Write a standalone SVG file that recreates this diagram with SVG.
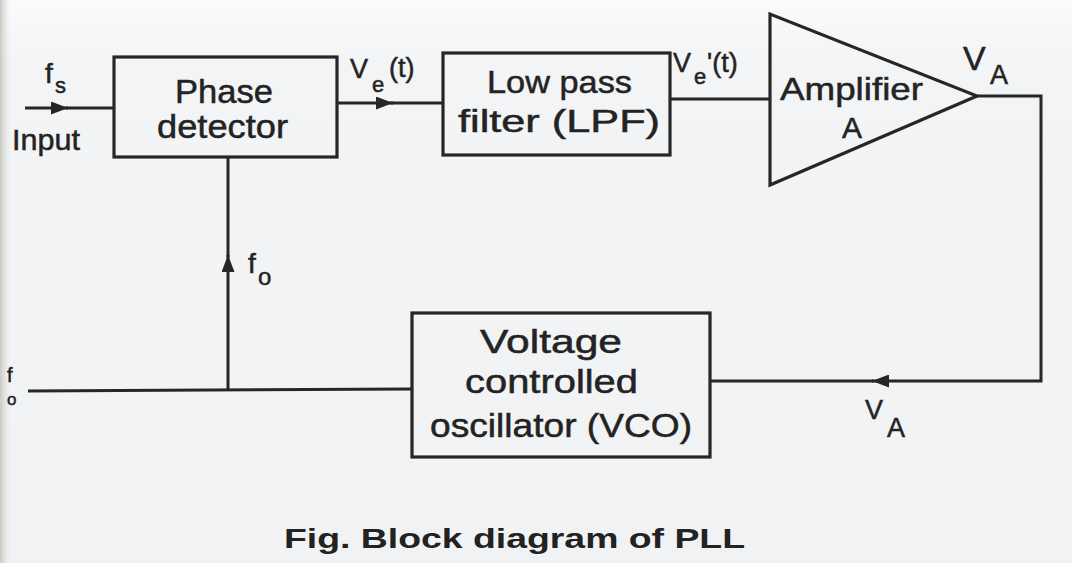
<svg xmlns="http://www.w3.org/2000/svg" width="1072" height="563" viewBox="0 0 1072 563">
  <defs>
    <style>
      .bg { fill: url(#paper); }
      .box { fill: none; stroke: #262626; stroke-width: 3.2; }
      .wire { fill: none; stroke: #262626; stroke-width: 3; }
      .lbl { font-family: "Liberation Sans", Arial, sans-serif; fill: #232323; stroke: #232323; stroke-width: 0.5; }
      .big { font-size: 33px; }
      .sig { font-size: 27px; }
      .sub { font-size: 22px; }
      .cap { font-family: "Liberation Sans", Arial, sans-serif; font-weight: bold; font-size: 28px; fill: #222; }
    </style>
    <marker id="ah" markerUnits="userSpaceOnUse" markerWidth="17" markerHeight="13" viewBox="0 0 17 13" refX="17" refY="6.5" orient="auto">
      <path d="M0,0 L17,6.5 L0,13 Z" fill="#262626"/>
    </marker>
    <linearGradient id="paper" x1="0" y1="0" x2="0" y2="1">
      <stop offset="0" stop-color="#fafbfb"/>
      <stop offset="0.12" stop-color="#f2f4f5"/>
      <stop offset="1" stop-color="#f0f2f3"/>
    </linearGradient>
    <linearGradient id="edge" x1="0" y1="0" x2="1" y2="0">
      <stop offset="0" stop-color="#c9c9c0"/>
      <stop offset="1" stop-color="#f1f3f4" stop-opacity="0"/>
    </linearGradient>
  </defs>

  <rect class="bg" x="0" y="0" width="1072" height="563"/>
  <rect x="0" y="0" width="12" height="563" fill="url(#edge)"/>

  <g id="connectors">
    <path class="wire" d="M25,108 L68,108" marker-end="url(#ah)"/>
    <path class="wire" d="M66,108 L114,108"/>
    <path class="wire" d="M337,103 L393,103" marker-end="url(#ah)"/>
    <path class="wire" d="M391,103 L443,103"/>
    <path class="wire" d="M670,99 L770,99"/>
    <path class="wire" d="M977,96 L1041,96 L1041,381 L872,381" marker-end="url(#ah)"/>
    <path class="wire" d="M874,381 L710,381"/>
    <path class="wire" d="M412,389 L28,391"/>
    <path class="wire" d="M228,390 L228,255" marker-end="url(#ah)"/>
    <path class="wire" d="M228,257 L228,157"/>
  </g>

  <g id="input-label">
    <text class="lbl" x="45" y="83" font-size="28">f</text>
    <text class="lbl" x="55" y="93" font-size="22">s</text>
    <text class="lbl" x="12" y="150" font-size="30" textLength="68" lengthAdjust="spacingAndGlyphs">Input</text>
  </g>

  <g id="phase-detector">
    <rect class="box" x="114" y="57" width="223" height="100"/>
    <text class="lbl big" x="175" y="103" textLength="98" lengthAdjust="spacingAndGlyphs">Phase</text>
    <text class="lbl big" x="157" y="138" textLength="131" lengthAdjust="spacingAndGlyphs">detector</text>
  </g>

  <g id="ve-label">
    <text class="lbl sig" x="350" y="78">V</text>
    <text class="lbl sub" x="372" y="92">e</text>
    <text class="lbl sig" x="389" y="77">(t)</text>
  </g>

  <g id="lpf">
    <rect class="box" x="443" y="53" width="227" height="102"/>
    <text class="lbl" font-size="32" x="487" y="93" textLength="145" lengthAdjust="spacingAndGlyphs">Low pass</text>
    <text class="lbl" font-size="32" x="458" y="132" textLength="202" lengthAdjust="spacingAndGlyphs">filter (LPF)</text>
  </g>

  <g id="ve-prime-label">
    <text class="lbl sig" x="673" y="72">V</text>
    <text class="lbl sub" x="694" y="84">e</text>
    <text class="lbl sig" x="707" y="72">'(t)</text>
  </g>

  <g id="amplifier">
    <path class="box" d="M770,14 L770,185 L977,96 Z" stroke-linejoin="miter"/>
    <text class="lbl" font-size="32" x="780" y="100" textLength="143" lengthAdjust="spacingAndGlyphs">Amplifier</text>
    <text class="lbl" font-size="30" x="842" y="138">A</text>
  </g>

  <g id="va-top-label">
    <text class="lbl" font-size="34" x="963" y="70">V</text>
    <text class="lbl" font-size="27" x="990" y="84">A</text>
  </g>

  <g id="vco">
    <rect class="box" x="412" y="313" width="298" height="144"/>
    <text class="lbl big" x="480" y="353" textLength="142" lengthAdjust="spacingAndGlyphs">Voltage</text>
    <text class="lbl big" x="465" y="393" textLength="173" lengthAdjust="spacingAndGlyphs">controlled</text>
    <text class="lbl big" x="430" y="437" textLength="262" lengthAdjust="spacingAndGlyphs">oscillator (VCO)</text>
  </g>

  <g id="va-bottom-label">
    <text class="lbl" font-size="27" x="865" y="419">V</text>
    <text class="lbl" font-size="27" x="887" y="437">A</text>
  </g>

  <g id="fo-feedback-label">
    <text class="lbl" font-size="28" x="248" y="273">f</text>
    <text class="lbl" font-size="24" x="258" y="285">o</text>
  </g>

  <g id="fo-output-label">
    <text class="lbl" font-size="20" x="7" y="382">f</text>
    <text class="lbl" font-size="17" x="7" y="405">o</text>
  </g>

  <g id="caption">
    <text class="cap" x="284" y="548" textLength="461" lengthAdjust="spacingAndGlyphs">Fig. Block diagram of PLL</text>
  </g>
</svg>
